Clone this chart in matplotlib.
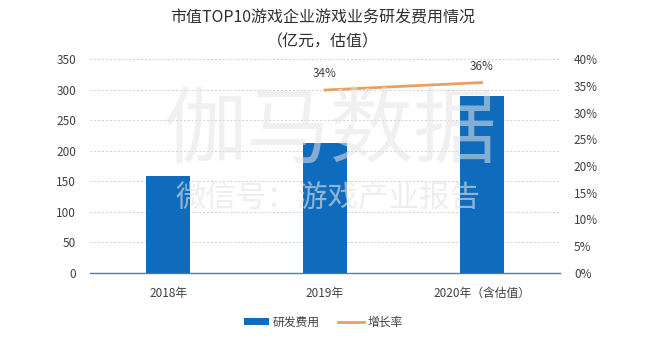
import matplotlib
matplotlib.use("Agg")
import matplotlib.pyplot as plt
from matplotlib.ticker import FuncFormatter

plt.rcParams['font.family'] = ['Noto Sans CJK SC', 'DejaVu Sans']

categories = ['2018年', '2019年', '2020年（含估值）']
rd_cost = [158, 213, 289]
growth_years = [1, 2]
growth_rate = [0.342, 0.356]
left_ticks = [0, 50, 100, 150, 200, 250, 300, 350]
right_ticks = [0, 0.05, 0.10, 0.15, 0.20, 0.25, 0.30, 0.35, 0.40]

bar_color = '#0F6CBD'
line_color = '#E8A062'
text_color = '#404040'

fig = plt.figure(figsize=(6.46, 3.4), dpi=100)
ax = fig.add_axes([90/646, 1-273/340, 470/646, 214/340])
ax2 = ax.twinx()

x = list(range(len(categories)))
ax.bar(x, rd_cost, width=0.28, color=bar_color, zorder=3, label='研发费用')
ax.set_xlim(-0.5, 2.5)
ax.set_ylim(0, 350)
ax.set_yticks(left_ticks)
ax.set_xticks(x)
ax.set_xticklabels(categories, fontsize=8.5, color=text_color)
ax.tick_params(axis='both', length=0, colors=text_color, labelsize=8.5)
ax.tick_params(axis='x', pad=10)
ax.tick_params(axis='y', pad=10)
ax.grid(axis='y', color='#D0D0D0', linestyle=(0, (2, 2)), linewidth=0.7, zorder=0)
for s in ['top', 'right', 'left']:
    ax.spines[s].set_visible(False)
ax.spines['bottom'].set_color('#5A7A99')
ax.spines['bottom'].set_linewidth(1.0)

ax2.plot(growth_years, growth_rate, color=line_color, linewidth=2, zorder=4, label='增长率')
for xi, v in zip(growth_years, growth_rate):
    ax2.text(xi, v + 0.018, f'{v:.0%}', ha='center', va='bottom', fontsize=8.5, color=text_color)
ax2.set_ylim(0, 0.40)
ax2.set_yticks(right_ticks)
ax2.yaxis.set_major_formatter(FuncFormatter(lambda v, p: f'{v*100:.0f}%'))
ax2.tick_params(axis='y', length=0, colors=text_color, labelsize=8.5, pad=10)
for s in ['top', 'right', 'left', 'bottom']:
    ax2.spines[s].set_visible(False)

fig.text(0.5, 1-18/340, '市值TOP10游戏企业游戏业务研发费用情况', ha='center', va='center',
         fontsize=11.5, color='#303030')
fig.text(0.5, 1-42/340, '（亿元，估值）', ha='center', va='center',
         fontsize=11.5, color='#303030')

# watermark
fig.text(330/646, 1-132/340, '伽马数据', ha='center', va='center', fontsize=60,
         color='#E4E4E4', alpha=0.55, zorder=0)
fig.text(328/646, 1-198/340, '微信号：游戏产业报告', ha='center', va='center', fontsize=22,
         color='#E4E4E4', alpha=0.6, zorder=0)

h1, l1 = ax.get_legend_handles_labels()
h2, l2 = ax2.get_legend_handles_labels()
fig.legend(h1 + h2, l1 + l2, loc='center', bbox_to_anchor=(0.5, 1-322/340), ncol=2,
           frameon=False, fontsize=8.5, handlelength=2.2, handleheight=0.5,
           columnspacing=1.5, handletextpad=0.3, labelcolor=text_color)

fig.savefig('out.png', dpi=100)
